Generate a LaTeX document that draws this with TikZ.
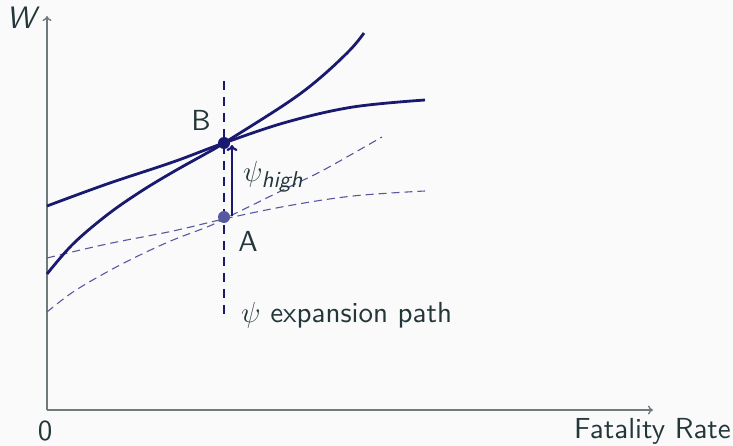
\RequirePackage{fix-cm}
\documentclass[tikz,border=0pt]{standalone}
\usepackage{fontspec}
\setsansfont{lmsans10-regular}[Extension=.otf,SlantedFont=lmsans10-oblique,ItalicFont=lmsans10-oblique]
\usetikzlibrary{arrows.meta}
\definecolor{navy}{RGB}{25,25,112}
\definecolor{navylight}{RGB}{88,88,160}
\definecolor{txt}{RGB}{35,55,59}
\definecolor{axisc}{RGB}{110,122,124}
\definecolor{bg}{RGB}{250,250,250}
\begin{document}
\begin{tikzpicture}[x=1pt,y=-1pt,
  axis/.style={draw=axisc,line width=1.4pt,-{To[length=5pt,width=9pt]}},
  solidcurve/.style={draw=navy,line width=2.8pt},
  thindash/.style={draw=navylight,line width=1.1pt,dash pattern=on 8pt off 5pt},
  pathdash/.style={draw=navy,line width=2.8pt,dash pattern=on 9pt off 7pt},
  lbl/.style={text=txt,font=\sffamily\fontsize{29}{34}\selectfont,inner sep=0pt},
  dotB/.style={circle,fill=navy,minimum size=12pt,inner sep=0pt},
  dotA/.style={circle,fill=navylight,minimum size=12pt,inner sep=0pt}]
\useasboundingbox[fill=bg] (0,0) rectangle (733,446);
% axes
\coordinate (O) at (47,410);
\coordinate (Ytop) at (47,16);
\coordinate (Xend) at (653,410);
\draw[axis] (O) -- (Ytop);
\draw[axis] (O) -- (Xend);
% dashed curves
\draw[thindash] plot[smooth,tension=0.6] coordinates {(47,258) (107,244) (173,231) (224,219) (287,206) (353,196) (425,191)};
\draw[thindash] plot[smooth,tension=0.6] coordinates {(47,312) (73,292) (107,272) (140,255) (173,240) (207,227) (224,219) (287,188) (320,172) (382,137)};
% expansion path
\coordinate (Ptop) at (224,81);
\coordinate (Pbot) at (224,314);
\draw[pathdash] (Ptop) -- (Pbot);
% solid curves
\draw[solidcurve] plot[smooth,tension=0.6] coordinates {(47,206) (107,184) (173,162) (224,143) (287,122) (353,107) (425,100)};
\draw[solidcurve] plot[smooth,tension=0.6] coordinates {(47,274) (73,244) (107,215) (140,192) (173,172) (207,153) (224,143) (287,103) (320,78) (350,50) (364,33)};
% points
\node[dotB] (B) at (224,143) {};
\node[dotA] (A) at (224,217) {};
\coordinate (arrS) at (232,216);
\coordinate (arrE) at (232,145);
\draw[draw=navy,line width=2.2pt,-{To[length=6pt,width=11pt]}] (arrS) -- (arrE);
% labels
\node[lbl] (Blbl) at (201,120) {B};
\node[lbl] (Albl) at (248,241) {A};
\node[lbl,anchor=base west] (psih) at (243,182) {$\psi_{\mbox{\fontsize{23}{27}\selectfont\slshape high}}$};
\node[lbl,anchor=base west] (psie) at (241,322) {$\psi$ expansion path};
\node[lbl,font=\sffamily\slshape\fontsize{31}{36}\selectfont] (W) at (21,18) {W};
\node[lbl] (zero) at (45,431) {0};
\node[lbl,anchor=east] (fr) at (731,431) {Fatality Rate};
\end{tikzpicture}
\end{document}
